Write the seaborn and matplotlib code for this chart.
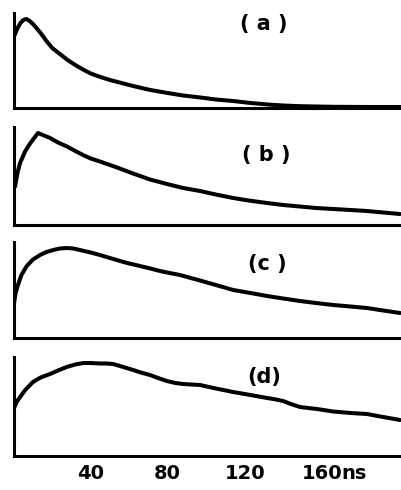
import matplotlib
matplotlib.use("Agg")
import matplotlib.pyplot as plt
import pandas as pd
import seaborn as sns

# Time samples (ns) and intensity (arbitrary units) for the four decay traces
t_a = [0.5, 2, 3.5, 5, 6.5, 8, 10, 12, 14, 17, 20, 24, 28, 32, 36, 40, 45, 50, 54, 58, 62,
       71, 80, 88, 97, 105, 114, 123, 132, 140, 149, 166, 184, 201]
i_a = [73, 80, 85, 88, 89, 87.5, 84, 79.5, 75, 67, 60, 54, 48, 43, 38.5, 34.5, 31, 28, 26, 24, 22,
       18, 15, 12.5, 10.5, 8.5, 7, 5, 3.5, 2.5, 1.8, 1.2, 1, 1]

t_b = [0.7, 2, 3.3, 5.9, 8.5, 12.6, 18.9, 23, 27.7, 32, 36, 40, 44.8, 53.7, 62, 70.8, 79.6, 88,
       96.8, 105, 114, 122, 131.6, 140, 148.7, 157, 166, 175, 183.5, 192, 200.7]
i_b = [38, 52, 61.5, 73, 81, 91.5, 86.5, 82, 78, 73.5, 69.5, 66, 63, 57, 51, 45, 40.5, 36.5,
       33.5, 30, 26.5, 24, 21.5, 19.5, 18, 16.5, 15.5, 14.5, 13.5, 12, 10.5]

t_c = [0.2, 1, 2.2, 4, 6.8, 10, 13.7, 17, 20.6, 24, 27.5, 31, 34.4, 40, 44.8, 50, 55.2, 60, 65.6,
       71, 76, 81, 86.4, 92, 96.8, 105, 114, 123, 131.6, 140, 148.7, 157, 166, 175, 183.5, 192, 200.7]
i_c = [35, 45, 53, 63, 72, 78.5, 83, 86, 88, 89.5, 90, 89.5, 88, 85.5, 83, 80, 77, 74.5, 72,
       69.5, 67, 65, 63, 60, 57.5, 53, 48, 45, 42, 39.5, 37, 35, 33, 31.5, 30, 27.5, 25]

t_d = [0.2, 1.5, 3.3, 6, 10, 14, 18.9, 23, 27.5, 32, 36.2, 40, 44.8, 48, 51.7, 56, 62.1, 66, 70.8,
       75, 79.5, 84, 88.1, 92, 96.8, 105, 114, 123, 131.6, 135, 139.9, 144, 148.7, 157.5, 166,
       175, 183.5, 192, 200.7]
i_d = [48, 54, 59, 66, 74, 78.5, 82, 85.5, 89, 91.5, 93, 93, 92.5, 92.5, 92, 89.5, 86, 83.5, 81,
       78, 75, 73, 72, 71.5, 71, 67.5, 64, 61, 58, 57, 55, 52, 49, 47, 44.5, 43, 42, 39, 36]

panel_labels = ["( a )", "( b )", "(c )", "(d)"]
tick_values = [40, 80, 120, 160, 200]
tick_labels = ["40", "80", "120", "160", ""]
unit_label = "ns"

sns.set_style("white")
plt.rcParams["font.family"] = ["DejaVu Sans"]
plt.rcParams["text.color"] = "black"

W, H = 401, 490
fig = plt.figure(figsize=(W / 100, H / 100), dpi=100)
fig.patch.set_facecolor("white")

# panel geometry in pixels: (top, baseline)
frames = [(13, 108), (127, 224.5), (242, 338), (357, 456)]
label_pos = [(264, 24), (266, 155), (267, 264), (264, 377)]
traces = [(t_a, i_a), (t_b, i_b), (t_c, i_c), (t_d, i_d)]

x0 = 13.7
for k, ((top, base), (tt, ii)) in enumerate(zip(frames, traces)):
    ax = fig.add_axes([x0 / W, 1 - base / H, (W - x0) / W, (base - top) / H])
    df = pd.DataFrame({"t": tt, "I": ii})
    sns.lineplot(data=df, x="t", y="I", ax=ax, color="black", lw=2.9,
                 estimator=None, sort=False)
    for ln in ax.lines:
        ln.set_solid_joinstyle("round")
        ln.set_solid_capstyle("round")
    ax.set_xlim(0, 201.2)
    ax.set_ylim(0, base - top)
    sns.despine(ax=ax)
    for s in ("left", "bottom"):
        ax.spines[s].set_linewidth(2.2)
        ax.spines[s].set_color("black")
    ax.set_xlabel("")
    ax.set_ylabel("")
    ax.set_yticks([])
    ax.set_facecolor("none")
    if k < 3:
        ax.set_xticks([])
    else:
        ax.set_xticks(tick_values)
        ax.set_xticklabels(tick_labels, fontsize=14, fontweight="bold")
        ax.tick_params(axis="x", direction="in", length=9, width=1.8,
                       color="black", pad=6, labelcolor="black")
        ax.annotate(unit_label, xy=(160, 0), xycoords="data",
                    xytext=(14.3, -6), textcoords="offset points",
                    ha="left", va="top", fontsize=14, fontweight="bold",
                    color="black")
    lx, ly = label_pos[k]
    fig.text(lx / W, 1 - ly / H, panel_labels[k], ha="center", va="center",
             fontsize=15, fontweight="bold", color="black")

fig.savefig("out.png", dpi=100, facecolor="white")
